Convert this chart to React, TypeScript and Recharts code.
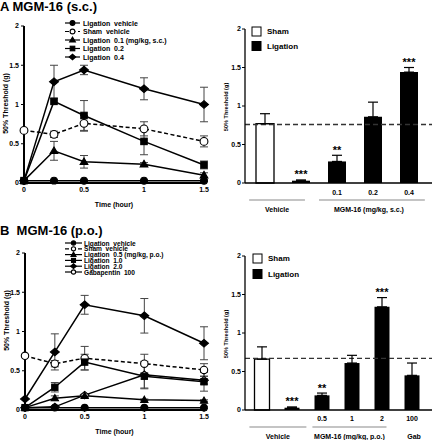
import React from 'react';
import {
  LineChart, Line, XAxis, YAxis, ErrorBar, Legend,
  BarChart, Bar, Cell, ReferenceLine, LabelList,
} from 'recharts';

const FONT = '"Liberation Sans", Arial, Helvetica, sans-serif';

// ---------------- Panel A: time course (s.c.) ----------------
const timesA = [0, 0.25, 0.5, 1, 1.5];
const aLigVeh = [0.03, 0.03, 0.03, 0.03, 0.03];
const aLigVehErr = [0.01, 0.01, 0.01, 0.01, 0.01];
const aSham = [0.67, 0.62, 0.76, 0.69, 0.53];
const aShamErr = [0, 0.04, 0.1, 0.09, 0.07];
const aLow = [0.03, 0.41, 0.27, 0.24, 0.1];
const aLowErr = [0, 0.12, 0.08, 0.02, 0.03];
const aMid = [0.03, 1.04, 0.86, 0.53, 0.23];
const aMidErr = [0, 0, 0.19, 0.17, 0.05];
const aHigh = [0.03, 1.29, 1.44, 1.2, 1.0];
const aHighErr = [0, 0.21, 0.06, 0.14, 0.22];
const aLegendNames = ['Ligation  vehicle', 'Sham  vehicle', 'Ligation  0.1 (mg/kg, s.c.)', 'Ligation  0.2', 'Ligation  0.4'];

// ---------------- Panel A: bars (s.c.) ----------------
const aBarIds = ['sham', 'veh', 'd01', 'd02', 'd04'];
const aBarTicks = ['', '', '0.1', '0.2', '0.4'];
const aBarValues = [0.77, 0.03, 0.28, 0.86, 1.44];
const aBarErrors = [0.13, 0.01, 0.08, 0.19, 0.06];
const aBarStars = ['', '***', '**', '', '***'];
const aBarIsSham = [true, false, false, false, false];
const aShamLevel = 0.76;
const aGroupLabels = ['Vehicle', 'MGM-16 (mg/kg, s.c.)'];
const aGroupStart = [0, 2];
const aGroupEnd = [1, 4];

// ---------------- Panel B: time course (p.o.) ----------------
const timesB = [0, 0.25, 0.5, 1, 1.5];
const bLigVeh = [0.03, 0.03, 0.03, 0.03, 0.03];
const bLigVehErr = [0.01, 0.01, 0.01, 0.01, 0.01];
const bSham = [0.69, 0.59, 0.66, 0.59, 0.51];
const bShamErr = [0, 0.04, 0.15, 0.12, 0.08];
const bLow = [0.03, 0.15, 0.18, 0.13, 0.12];
const bLowErr = [0, 0.03, 0.02, 0.01, 0.01];
const bMid = [0.03, 0.29, 0.61, 0.43, 0.36];
const bMidErr = [0, 0.06, 0.1, 0.16, 0.12];
const bHigh = [0.14, 0.74, 1.34, 1.2, 0.85];
const bHighErr = [0, 0.23, 0.12, 0.22, 0.21];
const bGab = [0.03, 0.04, 0.19, 0.45, 0.38];
const bGabErr = [0, 0, 0, 0.17, 0.05];
const bLegendNames = ['Ligation  vehicle', 'Sham  vehicle', 'Ligation  0.5 (mg/kg, p.o.)', 'Ligation  1.0', 'Ligation  2.0', 'Gabapentin  100'];

// ---------------- Panel B: bars (p.o.) ----------------
const bBarIds = ['sham', 'veh', 'd05', 'd1', 'd2', 'gab'];
const bBarTicks = ['', '', '0.5', '1', '2', '100'];
const bBarValues = [0.66, 0.03, 0.19, 0.61, 1.34, 0.45];
const bBarErrors = [0.16, 0.01, 0.03, 0.1, 0.12, 0.16];
const bBarStars = ['', '***', '**', '', '***', ''];
const bBarIsSham = [true, false, false, false, false, false];
const bShamLevel = 0.67;
const bGroupLabels = ['Vehicle', 'MGM-16 (mg/kg, p.o.)', 'Gab'];
const bGroupStart = [0, 2, 5];
const bGroupEnd = [1, 4, 5];

const yTicks = [0, 0.5, 1, 1.5, 2];
const xTicks = [0, 0.5, 1, 1.5];

// ---------------- styling / layout (not data) ----------------
const aGroupLine: ([number, number] | null)[] = [[-0.44, 0.11], [-0.5, 0.44]];
const bGroupLine: ([number, number] | null)[] = [[-0.42, 0.48], [-0.32, 0.15], null];
const bGroupLabelDx = [0, 0, 2];
const aGroupLabelDx = [0, -3];

type Shape = 'circle' | 'square' | 'triangle' | 'diamond';
interface SeriesStyle { key: string; shape: Shape; filled: boolean; dash?: string; r: number; }

function Marker({ shape, filled, cx, cy, r }: { shape: Shape; filled: boolean; cx: number; cy: number; r: number }) {
  const common = { fill: filled ? '#000' : '#fff', stroke: '#000', strokeWidth: 1.1 };
  if (shape === 'circle') return <circle cx={cx} cy={cy} r={r} {...common} />;
  if (shape === 'square') return <rect x={cx - r * 0.95} y={cy - r * 0.95} width={r * 1.9} height={r * 1.9} {...common} />;
  if (shape === 'triangle')
    return <polygon points={`${cx},${cy - r * 1.2} ${cx + r * 1.2},${cy + r * 0.85} ${cx - r * 1.2},${cy + r * 0.85}`} {...common} />;
  return <polygon points={`${cx},${cy - r * 1.15} ${cx + r * 1.35},${cy} ${cx},${cy + r * 1.15} ${cx - r * 1.35},${cy}`} {...common} />;
}

const dotRenderer = (s: SeriesStyle) => (props: any) => {
  const { cx, cy, index } = props;
  if (cx == null || cy == null) return <g key={`d${index}`} />;
  return <Marker key={`d${index}`} shape={s.shape} filled={s.filled} cx={cx} cy={cy} r={s.r} />;
};

function LineLegend({ items, names, rowGap, fontSize, r, x1, x2, tx }: any) {
  return (
    <svg width={120} height={items.length * rowGap + 6} style={{ display: 'block', overflow: 'visible' }}>
      {items.map((it: SeriesStyle, i: number) => {
        const cy = 4 + i * rowGap;
        return (
          <g key={i}>
            <line x1={x1} x2={x2} y1={cy} y2={cy} stroke="#000" strokeWidth={1.2} strokeDasharray={it.dash} />
            <Marker shape={it.shape} filled={it.filled} cx={(x1 + x2) / 2} cy={cy} r={r} />
            <text x={tx} y={cy} dominantBaseline="central" fontSize={fontSize} fontWeight="bold"
              fontFamily={FONT} style={{ whiteSpace: 'pre', fill: '#000' }} fill="#000">{names[i]}</text>
          </g>
        );
      })}
    </svg>
  );
}

function BarLegend({ rowGap, fontSize }: any) {
  const rows = [{ name: 'Sham', fill: '#fff' }, { name: 'Ligation', fill: '#000' }];
  return (
    <svg width={70} height={rowGap * 2 + 4} style={{ display: 'block', overflow: 'visible' }}>
      {rows.map((r, i) => {
        const cy = 5.5 + i * rowGap;
        return (
          <g key={i}>
            <rect x={2} y={cy - 4.5} width={9} height={9} fill={r.fill} stroke="#000" strokeWidth={1} />
            <text x={17} y={cy} dominantBaseline="central" fontSize={fontSize} fontWeight="bold" fontFamily={FONT} fill="#000">{r.name}</text>
          </g>
        );
      })}
    </svg>
  );
}

const tickStyle = { fontSize: 7, fontWeight: 'bold', fill: '#000', fontFamily: FONT };

const yLabelContent = (fontSize: number, dx: number, dy: number) => (props: any) => {
  const vb = props.viewBox || {};
  const x = (vb.x || 0) + dx;
  const y = (vb.y || 0) + (vb.height || 0) / 2 + dy;
  return (
    <text x={x} y={y} transform={`rotate(-90 ${x} ${y})`} textAnchor="middle" dominantBaseline="central"
      fontSize={fontSize} fontWeight="bold" fontFamily={FONT} fill="#000">50% Threshold (g)</text>
  );
};

function TimeCourse({ times, series, values, errors, styles, margin, height, legend, labelDy }: any) {
  const data = times.map((t: number, i: number) => {
    const row: any = { t };
    series.forEach((k: string, j: number) => {
      row[k] = values[j][i];
      row[k + 'Err'] = errors[j][i];
    });
    return row;
  });
  return (
    <LineChart width={216} height={height} data={data} margin={margin}>
      <XAxis dataKey="t" type="number" domain={[0, 1.5]} ticks={xTicks} tick={tickStyle}
        axisLine={{ stroke: '#000', strokeWidth: 2 }} tickLine={{ stroke: '#000' }} tickSize={2} tickMargin={2} height={24}
        label={{ value: 'Time (hour)', position: 'insideBottom', offset: 0, style: { fontSize: 7, fontWeight: 'bold', fill: '#000', fontFamily: FONT } }} />
      <YAxis type="number" domain={[0, 2]} ticks={yTicks} tick={tickStyle} width={24}
        axisLine={{ stroke: '#000', strokeWidth: 2 }} tickLine={{ stroke: '#000' }} tickSize={3} tickMargin={2}
        label={{ position: 'insideLeft', content: yLabelContent(7, 5, labelDy) }} />
      {styles.map((s: SeriesStyle) => (
        <Line key={s.key} dataKey={s.key} stroke="#000" strokeWidth={1.5} strokeDasharray={s.dash}
          dot={dotRenderer(s)} activeDot={false} isAnimationActive={false}>
          <ErrorBar dataKey={s.key + 'Err'} direction="y" width={4} stroke="#444" strokeWidth={1} />
        </Line>
      ))}
      <Legend layout="vertical" align="center" verticalAlign="middle"
        wrapperStyle={{ left: legend.left, top: legend.top, width: 120, height: 60 }}
        content={() => <LineLegend {...legend} />} />
    </LineChart>
  );
}

const BAR_YW = 29;
const PAD_L = 2;
const PAD_R = 5;

function makeBarTick(ticks: string[], gLabels: string[], gStart: number[], gEnd: number[], gLine: any[], gDx: number[], band: number, d: number[]) {
  return (props: any) => {
    const { x, y, index } = props;
    const gi = gStart.indexOf(index);
    let grp = null;
    if (gi >= 0) {
      const span = (gEnd[gi] - gStart[gi]) * band;
      const ln = gLine[gi];
      const x1 = ln ? x + ln[0] * band : x;
      const x2 = ln ? x + span + ln[1] * band : x + span;
      grp = (
        <g>
          {ln && <line x1={x1} x2={x2} y1={y + d[1]} y2={y + d[1]} stroke="#8a8a8a" strokeWidth={1.2} />}
          <text x={(x1 + x2) / 2 + gDx[gi]} y={y + d[2]} textAnchor="middle" dominantBaseline="central" {...tickStyle}>{gLabels[gi]}</text>
        </g>
      );
    }
    return (
      <g>
        {ticks[index] && (
          <text x={x} y={y + d[0]} textAnchor="middle" dominantBaseline="central" {...tickStyle}>{ticks[index]}</text>
        )}
        {grp}
      </g>
    );
  };
}

function DoseBars({ ids, ticks, values, errors, stars, isSham, level, gLabels, gStart, gEnd, gLine, gDx, height, margin, tickDy, legend }: any) {
  const data = ids.map((id: string, i: number) => ({ id, v: values[i], e: [0, errors[i]] }));
  const band = (216 - margin.left - margin.right - BAR_YW - PAD_L - PAD_R) / ids.length;
  const starContent = (props: any) => {
    const { x, y, width, height: h } = props;
    let idx = props.index;
    if (idx == null) idx = values.indexOf(props.value);
    const s = stars[idx];
    if (!s) return null;
    const px = h / values[idx];
    const top = y - errors[idx] * px;
    return (
      <text key={`s${idx}`} x={x + width / 2} y={top - 1.5} textAnchor="middle" fontSize={11} fontWeight="bold" fontFamily={FONT} fill="#000">{s}</text>
    );
  };
  return (
    <BarChart width={216} height={height} data={data} margin={margin} barCategoryGap="25%">
      <XAxis dataKey="id" type="category" padding={{ left: PAD_L, right: PAD_R }} height={24}
        axisLine={{ stroke: '#000', strokeWidth: 1.5 }} tickLine={false} tickSize={0} tickMargin={0} interval={0}
        tick={makeBarTick(ticks, gLabels, gStart, gEnd, gLine, gDx, band, tickDy)} />
      <YAxis type="number" domain={[0, 2]} ticks={yTicks} tick={tickStyle} width={BAR_YW}
        axisLine={{ stroke: '#000', strokeWidth: 1.3 }} tickLine={{ stroke: '#000' }} tickSize={3} tickMargin={1}
        label={{ position: 'insideLeft', content: yLabelContent(5.6, 10, 1) }} />
      <ReferenceLine y={level} stroke="#333" strokeWidth={1.3} strokeDasharray="5 3" />
      <Bar dataKey="v" isAnimationActive={false}>
        {data.map((_: any, i: number) => (
          <Cell key={i} fill={isSham[i] ? '#fff' : '#000'} stroke="#000" strokeWidth={isSham[i] ? 1.3 : 0} />
        ))}
        <ErrorBar dataKey="e" direction="y" width={5} stroke="#000" strokeWidth={1.2} />
        <LabelList dataKey="v" content={starContent} />
      </Bar>
      <Legend layout="vertical" align="center" verticalAlign="middle"
        wrapperStyle={{ left: legend.left, top: legend.top, width: 70, height: 40 }}
        content={() => <BarLegend rowGap={legend.rowGap} fontSize={8} />} />
    </BarChart>
  );
}

const aStyles: SeriesStyle[] = [
  { key: 'sham', shape: 'circle', filled: false, dash: '4 2.5', r: 3.9 },
  { key: 'low', shape: 'triangle', filled: true, r: 3.2 },
  { key: 'mid', shape: 'square', filled: true, r: 3.4 },
  { key: 'high', shape: 'diamond', filled: true, r: 3.3 },
  { key: 'ligVeh', shape: 'circle', filled: true, r: 3.4 },
];
const aLegendStyles: SeriesStyle[] = [aStyles[4], aStyles[0], aStyles[1], aStyles[2], aStyles[3]].map((s) => ({ ...s }));

const bStyles: SeriesStyle[] = [
  { key: 'sham', shape: 'circle', filled: false, dash: '4 2.5', r: 3.7 },
  { key: 'gab', shape: 'diamond', filled: false, r: 3.2 },
  { key: 'low', shape: 'triangle', filled: true, r: 3.0 },
  { key: 'mid', shape: 'square', filled: true, r: 3.3 },
  { key: 'high', shape: 'diamond', filled: true, r: 3.3 },
  { key: 'ligVeh', shape: 'circle', filled: true, r: 3.3 },
];
const bLegendStyles: SeriesStyle[] = [bStyles[5], bStyles[0], bStyles[2], bStyles[3], bStyles[4], { ...bStyles[1], shape: 'circle' }];

export default function App() {
  return (
    <div style={{ position: 'absolute', left: 0, top: 0, width: 432, height: 440, background: '#fff', fontFamily: FONT, overflow: 'hidden' }}>
      <div style={{ position: 'absolute', left: 0, top: 0 }}>
        <TimeCourse
          times={timesA}
          series={['ligVeh', 'sham', 'low', 'mid', 'high']}
          values={[aLigVeh, aSham, aLow, aMid, aHigh]}
          errors={[aLigVehErr, aShamErr, aLowErr, aMidErr, aHighErr]}
          styles={aStyles}
          height={215}
          labelDy={-1}
          margin={{ top: 26, right: 12, left: 0, bottom: 8 }}
          legend={{ left: 62, top: 19, items: aLegendStyles, names: aLegendNames, rowGap: 8.5, fontSize: 7, r: 2.4, x1: 3, x2: 18, tx: 21 }}
        />
      </div>
      <div style={{ position: 'absolute', left: 216, top: 0 }}>
        <DoseBars ids={aBarIds} ticks={aBarTicks} values={aBarValues} errors={aBarErrors} stars={aBarStars}
          isSham={aBarIsSham} level={aShamLevel} gLabels={aGroupLabels} gStart={aGroupStart} gEnd={aGroupEnd}
          gLine={aGroupLine} gDx={aGroupLabelDx} height={215} margin={{ top: 29, right: 0, left: 0, bottom: 8 }}
          tickDy={[9, 17, 26]} legend={{ left: 34, top: 26, rowGap: 14.5 }} />
      </div>
      <div style={{ position: 'absolute', left: 0, top: 220 }}>
        <TimeCourse
          times={timesB}
          series={['ligVeh', 'sham', 'low', 'mid', 'high', 'gab']}
          values={[bLigVeh, bSham, bLow, bMid, bHigh, bGab]}
          errors={[bLigVehErr, bShamErr, bLowErr, bMidErr, bHighErr, bGabErr]}
          styles={bStyles}
          height={220}
          labelDy={-11}
          margin={{ top: 33, right: 12, left: 1, bottom: 6 }}
          legend={{ left: 62, top: 19.3, items: bLegendStyles, names: bLegendNames, rowGap: 5.8, fontSize: 6.6, r: 2.1, x1: 3, x2: 20, tx: 22 }}
        />
      </div>
      <div style={{ position: 'absolute', left: 216, top: 220 }}>
        <DoseBars ids={bBarIds} ticks={bBarTicks} values={bBarValues} errors={bBarErrors} stars={bBarStars}
          isSham={bBarIsSham} level={bShamLevel} gLabels={bGroupLabels} gStart={bGroupStart} gEnd={bGroupEnd}
          gLine={bGroupLine} gDx={bGroupLabelDx} height={220} margin={{ top: 36, right: 0, left: 0, bottom: 6 }}
          tickDy={[8, 17, 26]} legend={{ left: 35, top: 32.5, rowGap: 15.5 }} />
      </div>
      <div style={{ position: 'absolute', left: 0, top: 0, fontSize: 13, fontWeight: 'bold', lineHeight: '13px', whiteSpace: 'pre', color: '#000' }}>A MGM-16 (s.c.)</div>
      <div style={{ position: 'absolute', left: 0, top: 224, fontSize: 13, fontWeight: 'bold', lineHeight: '13px', whiteSpace: 'pre', color: '#000' }}>B  MGM-16 (p.o.)</div>
    </div>
  );
}
